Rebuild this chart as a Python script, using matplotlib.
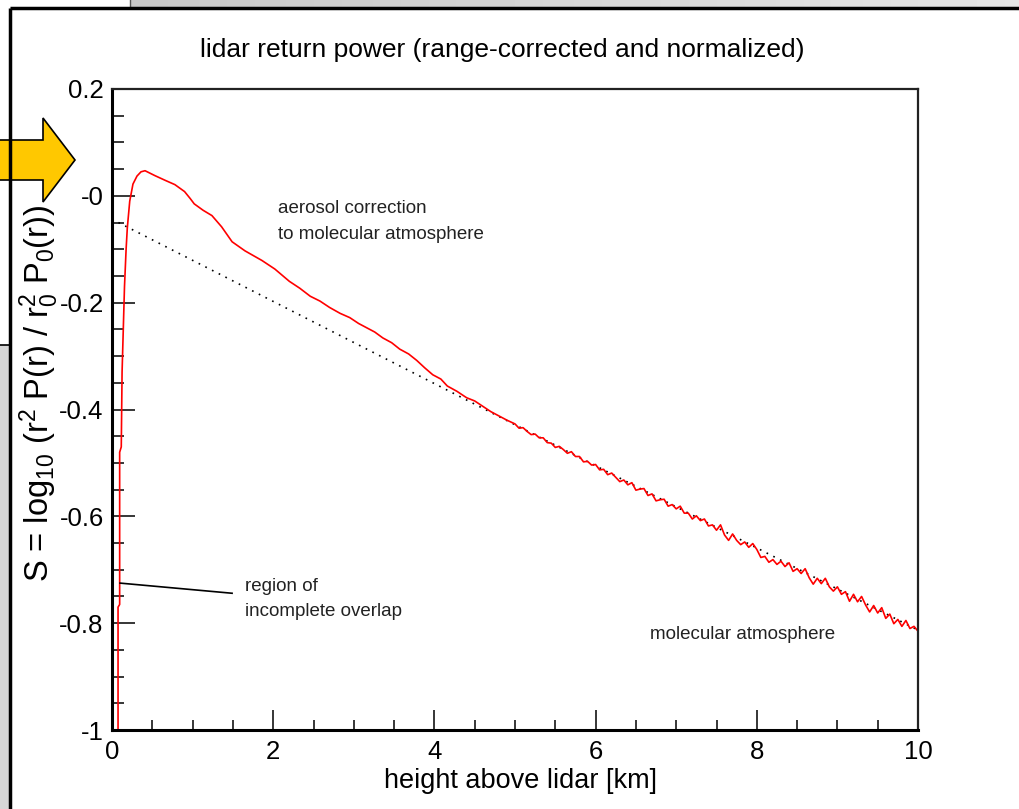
import numpy as np
import matplotlib
matplotlib.use("Agg")
import matplotlib.pyplot as plt
from matplotlib.patches import Polygon, Rectangle
from matplotlib.ticker import FixedLocator, MultipleLocator, FixedFormatter

plt.rcParams['font.family'] = ['Liberation Sans', 'DejaVu Sans']
plt.rcParams['mathtext.default'] = 'regular'
plt.rcParams['axes.unicode_minus'] = False

# lidar signal: steep overlap region + aerosol bump
head_x = [0.075, 0.075, 0.095, 0.095, 0.115, 0.125, 0.14, 0.155, 0.175, 0.19,
          0.22, 0.26, 0.31, 0.36, 0.41, 0.53, 0.66, 0.78, 0.90, 0.97,
          1.02, 1.13, 1.24, 1.36, 1.49, 1.65, 1.86, 2.02, 2.20, 2.33,
          2.46, 2.58, 2.70, 2.83, 2.95, 3.06, 3.16, 3.26, 3.36, 3.47,
          3.57, 3.68, 3.78, 3.88, 3.98, 4.08, 4.16, 4.28, 4.40, 4.50,
          4.60, 4.70, 4.80, 4.90]
head_y = [-1.0, -0.77, -0.765, -0.48, -0.47, -0.33, -0.25, -0.17, -0.10, -0.06,
          -0.01, 0.022, 0.037, 0.045, 0.047, 0.038, 0.029, 0.021, 0.008, -0.005,
          -0.015, -0.027, -0.037, -0.058, -0.086, -0.103, -0.121, -0.137, -0.160, -0.173,
          -0.188, -0.197, -0.209, -0.220, -0.228, -0.239, -0.247, -0.255, -0.266, -0.275,
          -0.287, -0.296, -0.308, -0.322, -0.335, -0.343, -0.356, -0.366, -0.378, -0.384,
          -0.394, -0.404, -0.412, -0.420]

# noisy tail (5 - 10 km), every 0.05 km
tail_x = [round(5.0 + 0.05 * i, 2) for i in range(101)]
tail_y = [-0.427, -0.435, -0.434, -0.441, -0.447, -0.446, -0.453, -0.453, -0.462, -0.463,
          -0.471, -0.469, -0.475, -0.482, -0.479, -0.488, -0.488, -0.498, -0.497, -0.504,
          -0.503, -0.513, -0.512, -0.522, -0.519, -0.527, -0.535, -0.532, -0.541, -0.537,
          -0.551, -0.549, -0.548, -0.561, -0.558, -0.571, -0.569, -0.568, -0.581, -0.578,
          -0.586, -0.581, -0.594, -0.594, -0.605, -0.599, -0.608, -0.605, -0.618, -0.616,
          -0.626, -0.616, -0.635, -0.645, -0.633, -0.645, -0.653, -0.648, -0.658, -0.651,
          -0.662, -0.677, -0.675, -0.686, -0.681, -0.690, -0.684, -0.694, -0.687, -0.703,
          -0.698, -0.707, -0.698, -0.715, -0.727, -0.716, -0.726, -0.716, -0.732, -0.740,
          -0.732, -0.746, -0.741, -0.759, -0.746, -0.760, -0.750, -0.766, -0.779, -0.767,
          -0.781, -0.771, -0.791, -0.783, -0.801, -0.793, -0.806, -0.795, -0.810, -0.806,
          -0.815]

lidar_x = head_x + tail_x
lidar_y = head_y + tail_y

# molecular atmosphere reference (dotted)
mol_x = [0.08, 10.0]
mol_y = [-0.050, -0.813]

# pointer for the overlap note
ptr_x = [0.10, 1.49]
ptr_y = [-0.725, -0.744]

yticks = [-1.0, -0.8, -0.6, -0.4, -0.2, 0.0, 0.2]
ytick_labels = ['-1', '-0.8', '-0.6', '-0.4', '-0.2', '-0', '0.2']
xticks = [0, 2, 4, 6, 8, 10]

W, H = 1019, 809
fig = plt.figure(figsize=(W / 100, H / 100), dpi=100)
fig.patch.set_facecolor('white')

# screenshot frame around the plot (pixel coords)
bg = fig.add_axes([0, 0, 1, 1])
bg.set_xlim(0, W)
bg.set_ylim(H, 0)
bg.axis('off')
grad = np.linspace(0.78, 0.9, 256).reshape(1, -1)
bg.imshow(grad, cmap='gray', vmin=0, vmax=1, extent=[130, W, 8, 0], aspect='auto')
bg.plot([130, 130], [0, 8], color='#555555', lw=1)
bg.add_patch(Rectangle((0, 345), 10, H - 345, facecolor='#d6d6d6', edgecolor='none'))
bg.plot([0, 10], [345, 345], color='black', lw=1.2)
bg.plot([10, W], [8, 8], color='black', lw=2.5, solid_capstyle='butt')
bg.plot([10, 10], [8, H], color='black', lw=2.5, solid_capstyle='butt')
arrow = Polygon([(-5, 140), (43, 140), (43, 118), (75, 160), (43, 202), (43, 180), (-5, 180)],
                closed=True, facecolor='#ffc800', edgecolor='black', lw=1.2)
bg.add_patch(arrow)

# main plot
ax = fig.add_axes([112 / W, 1 - 730 / H, 806 / W, 641 / H])
ax.set_zorder(2)
ax.plot(mol_x, mol_y, color='black', lw=1.2, linestyle=(0, (1, 3.5)))
ax.plot(lidar_x, lidar_y, color='#ff0000', lw=1.2)
ax.plot(ptr_x, ptr_y, color='black', lw=1.2)

ax.set_xlim(0, 10)
ax.set_ylim(-1, 0.2)
ax.yaxis.set_major_locator(FixedLocator(yticks))
ax.yaxis.set_major_formatter(FixedFormatter(ytick_labels))
ax.yaxis.set_minor_locator(MultipleLocator(0.05))
ax.xaxis.set_major_locator(FixedLocator(xticks))
ax.xaxis.set_minor_locator(MultipleLocator(0.5))

ax.tick_params(axis='both', which='both', direction='in', top=False, right=False,
               width=1.1, labelsize=18.5, colors='black')
ax.tick_params(axis='y', which='major', length=16.5, pad=6)
ax.tick_params(axis='y', which='minor', length=8.5)
ax.tick_params(axis='x', which='major', length=14.5, pad=7)
ax.tick_params(axis='x', which='minor', length=7.2)

for side in ['left', 'bottom']:
    ax.spines[side].set_linewidth(2.2)
for side in ['top', 'right']:
    ax.spines[side].set_linewidth(1.6)
    ax.spines[side].set_color('#222222')

note = dict(fontsize=13.5, color='#222222', va='center')
ax.text(2.06, -0.024, 'aerosol correction', **note)
ax.text(2.06, -0.073, 'to molecular atmosphere', **note)
ax.text(1.65, -0.731, 'region of', **note)
ax.text(1.65, -0.778, 'incomplete overlap', **note)
ax.text(6.67, -0.821, 'molecular atmosphere', **note)

fig.text(502 / W, 1 - 50 / H, 'lidar return power (range-corrected and normalized)',
         fontsize=19, ha='center', va='center')
fig.text(520 / W, 1 - 781 / H, 'height above lidar [km]', fontsize=19.5, ha='center', va='center')
fig.text(39 / W, 1 - 393 / H, 'S = log$_{10}$ (r$^{2}$ P(r) / r$_{0}^{2}$ P$_{0}$(r))',
         fontsize=23.5, rotation=90, ha='center', va='center')

fig.savefig('out.png', dpi=100)
